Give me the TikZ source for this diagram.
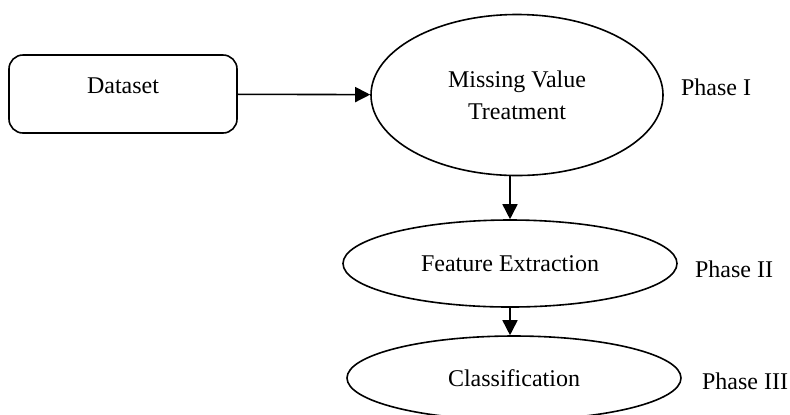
\documentclass[tikz,border=0pt]{standalone}
\usepackage{fontspec}
\setmainfont{Liberation Serif}
\usetikzlibrary{shapes.geometric,arrows.meta,positioning}
\begin{document}
\begin{tikzpicture}[x=0.5pt, y=-0.5pt, line width=0.8pt, font=\fontsize{12}{14}\selectfont,
    box/.style = {draw, rectangle, rounded corners=7pt, minimum width=114pt, minimum height=39pt, text depth=8pt},
    oval/.style = {draw, ellipse, align=center, inner sep=0pt},
    arr/.style = {-{Triangle[length=7.5pt, width=7.5pt]}}]
    \useasboundingbox (0,0) rectangle (790,414);
    \node[box] (data) at (123,94) {Dataset};
    \node[oval, minimum width=146pt, minimum height=80.5pt] (mvt) at (517,95) {Missing Value\\[2pt]Treatment};
    \node[oval, minimum width=167pt, minimum height=43.5pt] (fe) at (510,263.5) {Feature Extraction};
    \node[oval, minimum width=167pt, minimum height=42pt] (cls) at (514,378) {Classification};
    \node (p1) at (716,87) {Phase I};
    \node (p2) at (734,269) {Phase II};
    \node (p3) at (745,381) {Phase III};
    \draw[arr] (data) -- (mvt);
    \draw[arr] (fe.north |- mvt.south) -- (fe.north);
    \draw[arr] (fe.south) -- (fe.south |- cls.north);
\end{tikzpicture}
\end{document}
